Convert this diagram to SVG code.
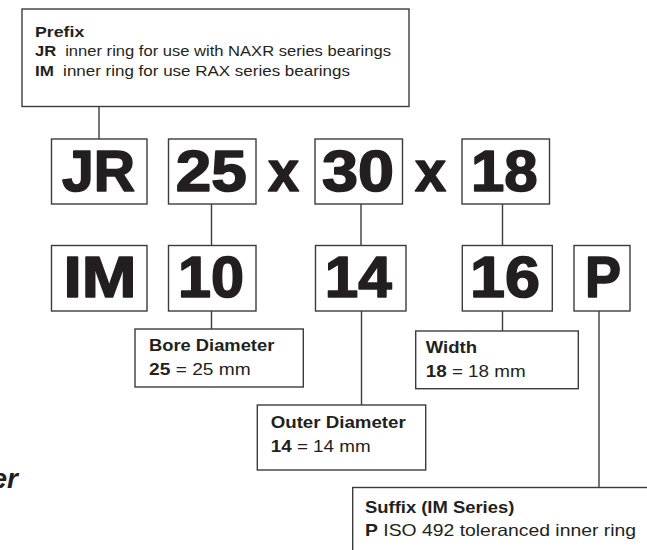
<svg xmlns="http://www.w3.org/2000/svg" width="647" height="550" viewBox="0 0 647 550">
<style>
.box{fill:#fff;stroke:#3c3c3c;stroke-width:1.4}
.ln{stroke:#3c3c3c;stroke-width:1.4;fill:none}
.big{font-family:"Liberation Sans",Arial,sans-serif;font-weight:bold;font-size:57px;fill:#231f20;stroke:#231f20;stroke-width:1.6;stroke-linejoin:round;text-anchor:middle}
.lbl{font-family:"Liberation Sans",Arial,sans-serif;font-size:16.5px;fill:#231f20}
.pre{font-family:"Liberation Sans",Arial,sans-serif;font-size:15px;fill:#231f20}
.b{font-weight:bold}
</style>
<rect width="647" height="550" fill="#fff"/>
<g id="connectors">
<line class="ln" x1="99" y1="106" x2="99" y2="139"/>
<line class="ln" x1="211.5" y1="204" x2="211.5" y2="245.5"/>
<line class="ln" x1="361" y1="204" x2="361" y2="245.5"/>
<line class="ln" x1="502.5" y1="204" x2="502.5" y2="245.5"/>
<line class="ln" x1="211.5" y1="311" x2="211.5" y2="329"/>
<line class="ln" x1="361.5" y1="311" x2="361.5" y2="405"/>
<line class="ln" x1="502.5" y1="311" x2="502.5" y2="331"/>
<line class="ln" x1="599" y1="311" x2="599" y2="487.5"/>
</g>
<g id="prefix">
<rect class="box" x="22" y="9" width="387" height="97.5"/>
<text class="pre b" x="35" y="36.7" textLength="49.3" lengthAdjust="spacingAndGlyphs">Prefix</text>
<text class="pre" x="35" y="56" textLength="356" lengthAdjust="spacingAndGlyphs"><tspan class="b">JR</tspan><tspan dx="4"> inner ring for use with NAXR series bearings</tspan></text>
<text class="pre" x="35" y="75.7" textLength="315" lengthAdjust="spacingAndGlyphs"><tspan class="b">IM</tspan><tspan dx="4"> inner ring for use RAX series bearings</tspan></text>
</g>
<g id="jr">
<rect class="box" x="51.5" y="139" width="95.5" height="65"/>
<text class="big" x="98.5" y="191" textLength="73" lengthAdjust="spacingAndGlyphs">JR</text>
</g>
<g id="d25">
<rect class="box" x="168.5" y="139" width="87.5" height="65"/>
<text class="big" x="211.2" y="191" textLength="71" lengthAdjust="spacingAndGlyphs">25</text>
</g>
<g id="x1"><text class="big" x="283.5" y="191" textLength="31" lengthAdjust="spacingAndGlyphs">x</text></g>
<g id="d30">
<rect class="box" x="315" y="139" width="87.5" height="65"/>
<text class="big" x="358" y="191" textLength="72" lengthAdjust="spacingAndGlyphs">30</text>
</g>
<g id="x2"><text class="big" x="430.5" y="191" textLength="31" lengthAdjust="spacingAndGlyphs">x</text></g>
<g id="d18">
<rect class="box" x="462" y="139" width="87.5" height="65"/>
<text class="big" x="504.3" y="191" textLength="66.7" lengthAdjust="spacingAndGlyphs">18</text>
</g>
<g id="im">
<rect class="box" x="51.5" y="245.5" width="95.5" height="65.5"/>
<text class="big" x="100" y="297" textLength="73" lengthAdjust="spacingAndGlyphs">IM</text>
</g>
<g id="d10">
<rect class="box" x="168.5" y="245.5" width="87.5" height="65.5"/>
<text class="big" x="211" y="297" textLength="66" lengthAdjust="spacingAndGlyphs">10</text>
</g>
<g id="d14">
<rect class="box" x="315.5" y="245.5" width="90.5" height="65.5"/>
<text class="big" x="358.3" y="297" textLength="67" lengthAdjust="spacingAndGlyphs">14</text>
</g>
<g id="d16">
<rect class="box" x="462.3" y="245.5" width="90" height="65.5"/>
<text class="big" x="505" y="297" textLength="70" lengthAdjust="spacingAndGlyphs">16</text>
</g>
<g id="p">
<rect class="box" x="574" y="245.5" width="56" height="65.5"/>
<text class="big" x="603" y="297" textLength="36" lengthAdjust="spacingAndGlyphs">P</text>
</g>
<g id="bore">
<rect class="box" x="135" y="329" width="168.3" height="58"/>
<text class="lbl b" x="149" y="351" textLength="125.3" lengthAdjust="spacingAndGlyphs">Bore Diameter</text>
<text class="lbl" x="149" y="375" textLength="101.7" lengthAdjust="spacingAndGlyphs"><tspan class="b">25</tspan> = 25 mm</text>
</g>
<g id="outer">
<rect class="box" x="257.3" y="405" width="168.4" height="65"/>
<text class="lbl b" x="270.7" y="428.3" textLength="135" lengthAdjust="spacingAndGlyphs">Outer Diameter</text>
<text class="lbl" x="270.7" y="452.3" textLength="100" lengthAdjust="spacingAndGlyphs"><tspan class="b">14</tspan> = 14 mm</text>
</g>
<g id="width">
<rect class="box" x="415.7" y="331" width="162.6" height="57.7"/>
<text class="lbl b" x="425.7" y="353.3" textLength="51.3" lengthAdjust="spacingAndGlyphs">Width</text>
<text class="lbl" x="425.7" y="377.3" textLength="100" lengthAdjust="spacingAndGlyphs"><tspan class="b">18</tspan> = 18 mm</text>
</g>
<g id="suffix">
<rect class="box" x="352.7" y="487.5" width="310" height="80"/>
<text class="lbl b" x="365" y="513.3" textLength="149.3" lengthAdjust="spacingAndGlyphs">Suffix (IM Series)</text>
<text class="lbl" x="365" y="536" textLength="271" lengthAdjust="spacingAndGlyphs"><tspan class="b">P</tspan> ISO 492 toleranced inner ring</text>
</g>
<g id="fragment">
<text x="18" y="488" font-family="Liberation Sans, Arial, sans-serif" font-weight="bold" font-style="italic" font-size="28" fill="#231f20" text-anchor="end">er</text>
</g>
</svg>
